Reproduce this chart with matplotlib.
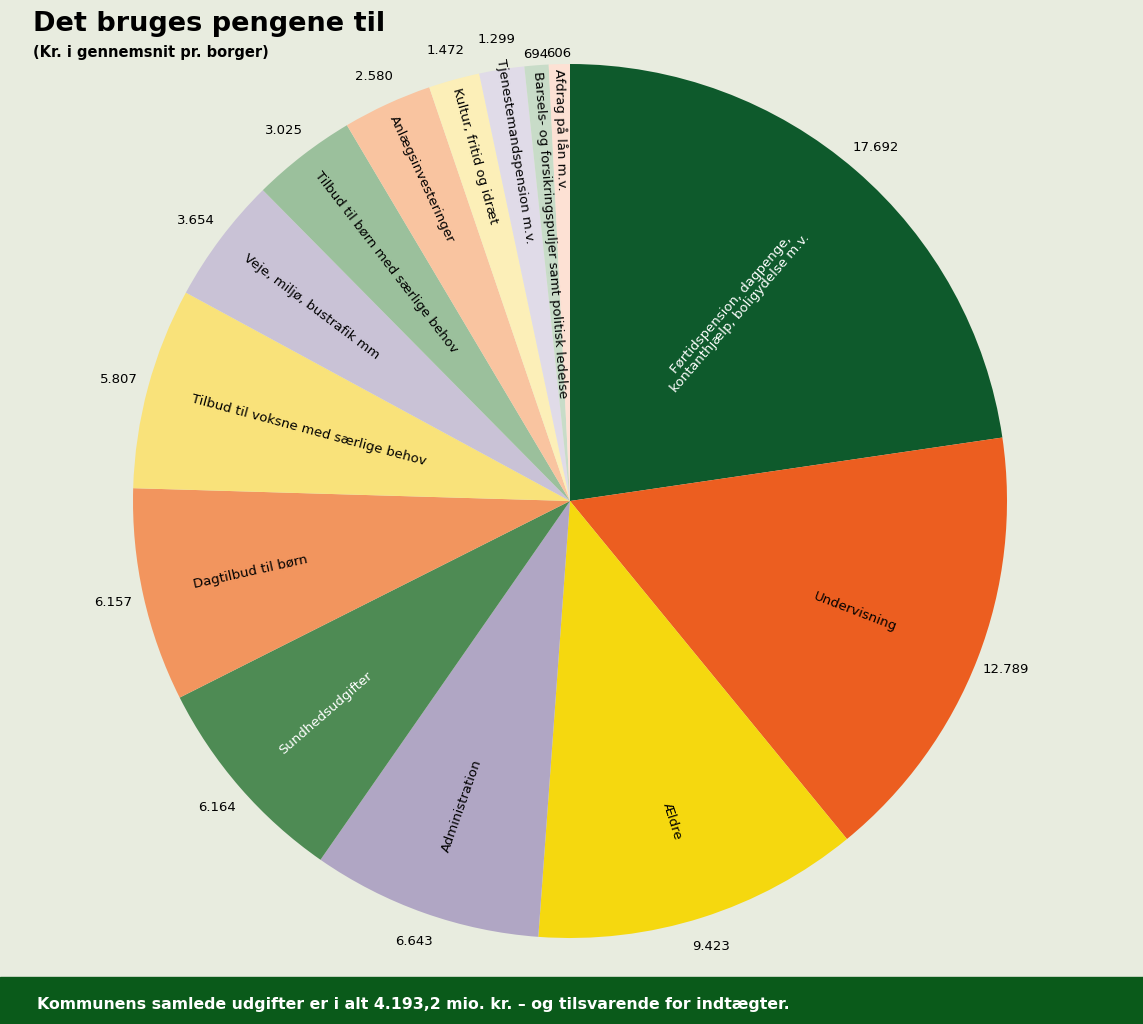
import numpy as np
import matplotlib.pyplot as plt

labels = ["Førtidspension, dagpenge,\nkontanthjælp, boligydelse m.v.", "Undervisning", "Ældre",
          "Administration", "Sundhedsudgifter", "Dagtilbud til børn",
          "Tilbud til voksne med særlige behov", "Veje, miljø, bustrafik mm",
          "Tilbud til børn med særlige behov", "Anlægsinvesteringer", "Kultur, fritid og idræt",
          "Tjenestemandspension m.v.", "Barsels- og forsikringspuljer samt politisk ledelse",
          "Afdrag på lån m.v."]
values = [17692, 12789, 9423, 6643, 6164, 6157, 5807, 3654, 3025, 2580, 1472, 1299, 694, 606]
value_labels = ["17.692", "12.789", "9.423", "6.643", "6.164", "6.157", "5.807", "3.654",
                "3.025", "2.580", "1.472", "1.299", "694", "606"]
colors = ["#0e5a2c", "#ec5e20", "#f5d80f", "#b0a6c4", "#4e8b54", "#f2955e", "#f9e27a",
          "#c9c2d6", "#9bc09c", "#f9c4a0", "#fcefb8", "#e0dbe8", "#c8dcc8", "#fde1d4"]
text_colors = ["white", "black", "black", "black", "white", "black", "black", "black",
               "black", "black", "black", "black", "black", "black"]
label_r = [0.58, 0.70, 0.77, 0.74, 0.74, 0.75, 0.62, 0.74, 0.69, 0.81, 0.82, 0.81, 0.61, 0.85]

bg = "#e8ecdf"
fig = plt.figure(figsize=(11.43, 10.24), dpi=100, facecolor=bg)
ax = fig.add_axes([133 / 1143, 86 / 1024, 874 / 1143, 874 / 1024])
wedges, _ = ax.pie(values, colors=colors, startangle=90, counterclock=False, radius=1,
                   wedgeprops=dict(linewidth=0))
ax.set_xlim(-1, 1)
ax.set_ylim(-1, 1)
ax.set_aspect("equal")
ax.axis("off")

for w, lab, vl, tc, r in zip(wedges, labels, value_labels, text_colors, label_r):
    ang = (w.theta1 + w.theta2) / 2
    rad = np.deg2rad(ang)
    rot = ang % 360
    if 90 < rot < 270:
        rot -= 180
    ax.text(r * np.cos(rad), r * np.sin(rad), lab, rotation=rot, rotation_mode="anchor",
            ha="center", va="center", fontsize=9.5, color=tc, linespacing=1.0)
    ro = 1.07 if w.theta2 - w.theta1 > 5 else 1.025
    ax.text(ro * np.cos(rad), ro * np.sin(rad), vl, ha="center", va="center", fontsize=9.5)

fig.text(33 / 1143, 1 - 24 / 1024, "Det bruges pengene til", fontsize=19.5, fontweight="bold",
         va="center")
fig.text(33 / 1143, 1 - 52 / 1024, "(Kr. i gennemsnit pr. borger)", fontsize=10.5,
         fontweight="bold", va="center")

fig.patches.append(plt.Rectangle((0, 0), 1, 47 / 1024, transform=fig.transFigure,
                                 color="#0a5a1a", zorder=0))
fig.text(37 / 1143, 20 / 1024,
         "Kommunens samlede udgifter er i alt 4.193,2 mio. kr. – og tilsvarende for indtægter.",
         fontsize=11.3, fontweight="bold", color="white", va="center")

fig.savefig("out.png", dpi=100, facecolor=bg)
